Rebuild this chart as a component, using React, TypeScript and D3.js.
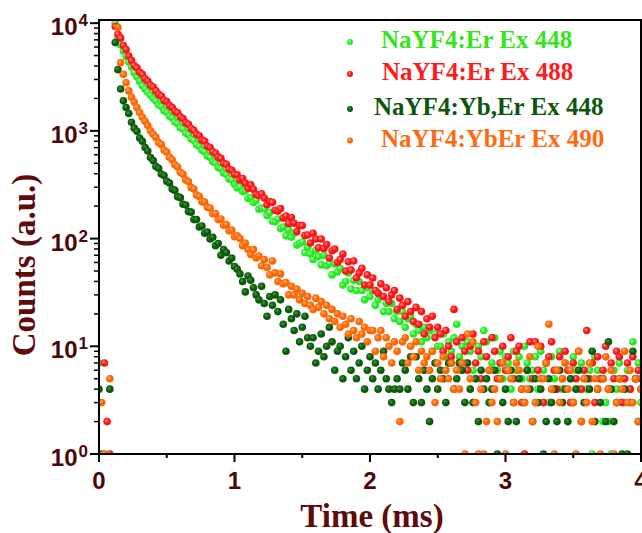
import React from 'react';
import * as d3 from 'd3';

// Sampling interval of the decay curves (ms); value index i is at time i * TIME_STEP_MS
const TIME_STEP_MS = 0.02;

// Counts per channel (0 = empty channel, not drawn on the log axis)
const erEx448 = [
  7, 0, 1, 0, 0, 0, 10000, 7400, 6300, 5500, 4900, 4360, 3900, 3470, 3160, 2880, 2630, 2450, 2290, 2140, 2000,
  1890, 1740, 1680, 1540, 1490, 1370, 1320, 1210, 1170, 1070, 1040, 950, 920, 840, 815, 745, 720, 660, 640, 585,
  565, 518, 502, 458, 446, 405, 395, 358, 350, 320,
  295, 303, 273, 278, 236, 240, 216, 227, 187, 192, 189, 164, 175, 145, 143, 152, 124, 128, 106, 120, 103, 112, 87, 90, 93,
  74, 83, 72, 64, 78, 68, 57, 70, 56, 59, 46, 58, 49, 53, 37, 40, 48, 34, 41, 33, 40, 33, 27, 35, 29,
  33, 24, 27, 29, 21, 25, 21, 25, 18, 21,
  17, 21, 15, 18, 19, 13, 16, 14, 11, 15, 12, 14, 9, 13, 10,
  10, 13, 8, 11, 9, 12, 16, 8, 10, 7, 11, 9, 6, 5, 10, 8, 14, 11, 3, 7, 12, 6, 9, 5, 8, 7, 4, 9, 6, 8,
  5, 10, 7, 5, 6, 8, 4, 9, 6, 7, 3, 8, 5, 6, 9, 4, 7, 2, 5, 8, 6, 4, 7, 5, 4, 6, 1, 8, 6, 5,
  2, 3, 2, 1, 6, 4, 7, 5, 3, 6, 4, 11, 5, 7, 3,
];

const erEx488 = [
  3, 0, 7, 2, 1, 0, 9300, 7900, 7300, 6200, 5700, 4950, 4500, 4050, 3850, 3500, 3350, 3050, 2900, 2650, 2550,
  2350, 2190, 2110, 1920, 1870, 1720, 1650, 1520, 1470, 1350, 1300, 1190, 1150, 1050, 1010, 930, 900, 820, 800, 720,
  700, 640, 620, 570, 555, 500, 490, 440, 430, 395,
  390, 350, 361, 327, 293, 315, 286, 256, 251, 261, 238, 206, 219, 217, 183, 180, 190, 155, 162, 138, 157, 139, 116, 132, 132,
  107, 108, 91, 112, 99, 82, 99, 81, 88, 66, 77, 80, 60, 64, 72, 50, 61, 51, 62, 43, 48, 53, 37, 46, 37,
  43, 33, 31, 38, 29, 35, 26, 30, 33, 22, 28, 24, 19, 26, 21, 17, 23, 16, 21, 13, 18, 15, 19, 12, 15,
  13, 9, 14, 10, 8, 22, 11, 7, 12, 9, 6, 10, 13, 7, 9, 5, 11, 8, 6, 12, 9, 5, 7, 10, 6, 8, 12, 5, 9, 10,
  3, 1, 6, 11, 5, 11, 6, 10, 3, 7, 8, 11, 6, 4, 8, 5, 9, 6, 3, 7, 5, 9, 4, 6, 14, 5, 7, 3, 8, 5,
  6, 10, 4, 7, 5, 9, 8, 3, 5, 7, 4, 8, 5, 6, 5,
];

const ybErEx448 = [
  4, 1, 0, 0, 4, 0, 6600, 3700, 2450, 1900, 1650, 1450, 1200, 1060, 990, 860, 800, 700, 650, 565, 530,
  468, 450, 398, 385, 340, 328, 288, 280, 245, 240, 208, 205, 178, 176, 150, 150, 128, 131, 112, 115,
  99, 103, 86, 90, 70, 79, 74, 62, 66, 55,
  52, 47, 40, 32, 45, 41, 35, 30, 27, 36, 25, 19, 29, 24, 30, 21, 27, 16, 9, 22,
  18, 14, 20, 11, 15, 19, 12, 10, 12, 7, 9, 13, 8, 10, 15, 11, 6, 9, 10, 5,
  8, 12, 6, 9, 5, 7, 10, 4, 6, 8, 5, 7, 4, 6, 9, 5, 4, 3, 4, 5, 4, 7, 6, 4, 8, 3, 8, 5, 3, 6,
  4, 2, 5, 7, 4, 6, 5, 3, 7, 7, 4, 5, 7, 6, 3, 7, 4, 3, 5, 2, 6, 4, 5, 3, 4, 6, 1, 5, 3, 4,
  2, 6, 3, 2, 5, 4, 3, 6, 4, 2, 5, 3, 4, 1, 2, 5, 3, 4, 2, 6, 3, 4, 2, 5, 3, 4, 6, 2, 3, 5,
  4, 9, 2, 4, 3, 5, 2, 11, 4, 2, 3, 5, 1, 4, 1, 3, 9, 5, 2, 4,
];

const ybErEx490 = [
  0, 3, 1, 0, 5, 0, 0, 9100, 4300, 3350, 2800, 2350, 2050, 1850, 1650, 1480, 1340, 1230, 1120, 1000, 930,
  870, 780, 745, 665, 635, 570, 540, 485, 462, 412, 395, 350, 338, 298, 288, 254, 246, 220, 218, 195,
  192, 170, 171, 150, 152, 133, 135, 118, 120, 104, 106,
  100, 86, 91, 79, 71, 79, 66, 69, 56, 64, 54, 46, 62, 48, 40, 47, 38, 39, 30,
  36, 30, 34, 27, 31, 25, 29, 24, 22, 28, 23, 26, 20, 24, 18, 22, 17, 20, 15, 19, 16, 13, 18, 14, 12, 17, 13, 15, 11, 14,
  14, 9, 12, 14, 8, 12, 10, 7, 11, 9, 2, 11, 12, 7, 10, 8, 11, 6, 9, 7,
  8, 6, 9, 3, 7, 5, 8, 6, 5, 7, 4, 6, 4, 7, 1, 13, 5, 11, 3, 1, 4, 1, 2, 6, 3, 4, 2, 5, 7, 1,
  6, 5, 3, 7, 6, 4, 3, 4, 8, 2, 3, 10, 5, 5, 7, 16, 4, 1, 6, 3, 5, 7, 4, 6, 3, 1, 9, 2, 5, 3,
  7, 2, 5, 4, 1, 5, 8, 4, 6, 1, 3, 5, 4, 9, 3, 6, 3, 5, 2, 4,
];

const SERIES_NAMES = ['NaYF4:Er Ex 448', 'NaYF4:Er Ex 488', 'NaYF4:Yb,Er Ex 448', 'NaYF4:YbEr Ex 490'];
const SERIES_VALUES = [erEx448, erEx488, ybErEx448, ybErEx490];
const SERIES_COLORS = ['#22ea22', '#ff1212', '#0a5a0a', '#ff6400'];
const SERIES_HIGHLIGHTS = ['#a8ffa8', '#ff8a8a', '#3f973f', '#ffb070'];
const LEGEND_TEXT_COLORS = ['#33e61a', '#ff1a1a', '#0c560c', '#ff6a10'];

const X_TICKS = [0, 1, 2, 3, 4];
const X_MINOR_TICKS = [0.5, 1.5, 2.5, 3.5];
const Y_TICK_EXPONENTS = [0, 1, 2, 3, 4];

const X_TITLE = 'Time (ms)';
const Y_TITLE = 'Counts (a.u.)';

const SERIF = '"Liberation Serif", "Times New Roman", serif';
const SANS = '"Liberation Sans", Arial, sans-serif';
const AXIS_TEXT = '#4e0707';
const TITLE_TEXT = '#5e0b0b';

export default function App() {
  const W = 642;
  const H = 533;
  const left = 99, right = 641, top = 20, bottom = 454;

  const x = d3.scaleLinear().domain([0, 4]).range([left, right]);
  const y = d3.scaleLog().domain([1, 10700]).range([bottom, top]);

  const minorY: number[] = [];
  for (let k = 0; k < 4; k++) {
    for (let j = 2; j <= 9; j++) minorY.push(j * Math.pow(10, k));
  }

  const legendX = [381, 382, 374, 381];
  const legendBase = [48, 80, 115, 146.5];

  return (
    <svg width={W} height={H} style={{ position: 'absolute', left: 0, top: 0, background: '#fff' }}>
      <defs>
        <clipPath id="plotClip">
          <rect x={left} y={top} width={right - left} height={bottom - top} />
        </clipPath>
        {SERIES_COLORS.map((c, i) => (
          <radialGradient key={i} id={`dot${i}`} cx="40%" cy="38%" r="62%">
            <stop offset="0%" stopColor={SERIES_HIGHLIGHTS[i]} />
            <stop offset="55%" stopColor={c} />
            <stop offset="100%" stopColor={c} />
          </radialGradient>
        ))}
      </defs>
      <rect x={0} y={0} width={W} height={H} fill="#fff" />

      <g clipPath="url(#plotClip)">
        {SERIES_VALUES.map((vals, si) => (
          <g key={si}>
            {vals.map((v, i) =>
              v > 0 ? (
                <circle key={i} cx={x(i * TIME_STEP_MS)} cy={y(v)} r={3.8} fill={`url(#dot${si})`} />
              ) : null
            )}
          </g>
        ))}
      </g>

      {/* frame */}
      <rect x={left} y={top} width={right - left} height={bottom - top} fill="none" stroke="#000" strokeWidth={2} />

      {/* x ticks */}
      {X_TICKS.map((t) => (
        <g key={`xt${t}`}>
          <line x1={x(t)} x2={x(t)} y1={bottom} y2={bottom + 8} stroke="#000" strokeWidth={2} />
          <text x={x(t)} y={489} textAnchor="middle" fontFamily={SANS} fontWeight="bold" fontSize={24} fill={AXIS_TEXT}>
            {t}
          </text>
        </g>
      ))}
      {X_MINOR_TICKS.map((t) => (
        <line key={`xm${t}`} x1={x(t)} x2={x(t)} y1={bottom} y2={bottom + 4} stroke="#000" strokeWidth={2} />
      ))}

      {/* y ticks */}
      {Y_TICK_EXPONENTS.map((e) => {
        const yy = y(Math.pow(10, e));
        return (
          <g key={`yt${e}`}>
            <line x1={left - 9} x2={left} y1={yy} y2={yy} stroke="#000" strokeWidth={2} />
            <text x={88} y={yy + 12} textAnchor="end" fontFamily={SANS} fontWeight="bold" fontSize={24} fill={AXIS_TEXT}>
              10
              <tspan dy={-9} dx={1} fontSize={17}>
                {e}
              </tspan>
            </text>
          </g>
        );
      })}
      {minorY.map((v) => (
        <line key={`ym${v}`} x1={left - 5} x2={left} y1={y(v)} y2={y(v)} stroke="#000" strokeWidth={1.5} />
      ))}

      {/* axis titles */}
      <text x={372} y={527} textAnchor="middle" fontFamily={SERIF} fontWeight="bold" fontSize={33} fill={TITLE_TEXT}>
        {X_TITLE}
      </text>
      <text
        transform={`translate(35, 265) rotate(-90)`}
        textAnchor="middle"
        fontFamily={SERIF}
        fontWeight="bold"
        fontSize={33}
        fill={TITLE_TEXT}
      >
        {Y_TITLE}
      </text>

      {/* legend */}
      {SERIES_NAMES.map((name, i) => (
        <g key={`lg${i}`}>
          <circle cx={350} cy={legendBase[i] - 6} r={3} fill={`url(#dot${i})`} />
          <text x={legendX[i]} y={legendBase[i]} fontFamily={SERIF} fontWeight="bold" fontSize={25} fill={LEGEND_TEXT_COLORS[i]}>
            {name}
          </text>
        </g>
      ))}
    </svg>
  );
}
